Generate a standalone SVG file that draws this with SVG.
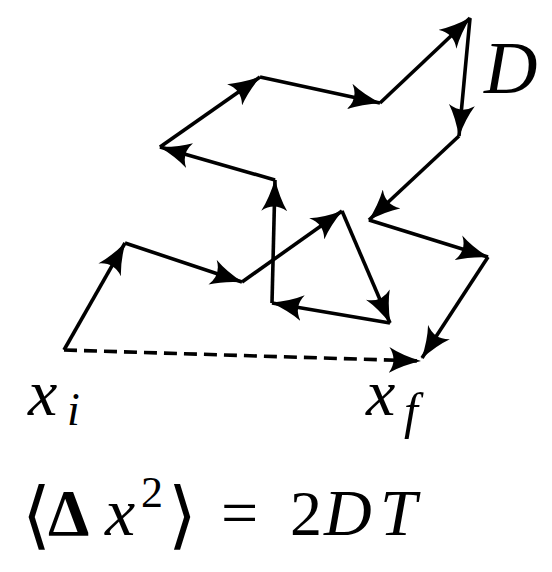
<svg xmlns="http://www.w3.org/2000/svg" width="552" height="572" viewBox="0 0 552 572">
<style>
.s{stroke:#000;stroke-width:3.6;fill:none;marker-end:url(#ah)}
.d{stroke-dasharray:13 7}
text{font-family:'Liberation Serif','DejaVu Serif',serif;fill:#000}
.i{font-style:italic}
</style>
<defs>
<marker id="ah" markerUnits="userSpaceOnUse" viewBox="0 0 32 26" refX="31" refY="13" markerWidth="32" markerHeight="26" orient="auto">
<path d="M0,0 Q13,8 32,13 Q13,18 0,26 Q9,13 0,0 Z" fill="#000"/>
</marker>
</defs>
<rect width="552" height="572" fill="#fff"/>
<g id="connectors">
<line class="s" x1="64" y1="350" x2="125" y2="243"/>
<line class="s" x1="125" y1="243" x2="242" y2="282"/>
<line class="s" x1="242" y1="282" x2="342" y2="211"/>
<line class="s" x1="342" y1="211" x2="390" y2="323"/>
<line class="s" x1="390" y1="323" x2="272" y2="303"/>
<line class="s" x1="272" y1="303" x2="275" y2="180"/>
<line class="s" x1="275" y1="180" x2="160" y2="147"/>
<line class="s" x1="160" y1="147" x2="260" y2="77"/>
<line class="s" x1="260" y1="77" x2="380" y2="103"/>
<line class="s" x1="380" y1="103" x2="470" y2="18"/>
<line class="s" x1="470" y1="18" x2="459" y2="136"/>
<line class="s" x1="459" y1="136" x2="369" y2="220"/>
<line class="s" x1="369" y1="220" x2="488" y2="257"/>
<line class="s" x1="488" y1="257" x2="422" y2="358"/>
<line class="s d" x1="64" y1="350" x2="420" y2="361"/>
</g>
<g id="label-D"><text class="i" x="484" y="93" font-size="74">D</text></g>
<g id="label-xi"><text class="i" x="28" y="415" font-size="66">x</text><text class="i" x="67" y="425" font-size="46">i</text></g>
<g id="label-xf"><text class="i" x="366" y="415" font-size="66">x</text><text class="i" x="404" y="428" font-size="50">f</text></g>
<g id="formula">
<text x="22" y="540" font-size="74">⟨</text>
<text x="48" y="535" font-size="66" font-weight="bold">Δ</text>
<text class="i" x="105" y="535" font-size="68">x</text>
<text x="141" y="507" font-size="44">2</text>
<text x="168" y="540" font-size="74">⟩</text>
<text x="221" y="535" font-size="66">=</text>
<text x="290" y="535" font-size="64">2</text>
<text class="i" x="324" y="535" font-size="66">D</text>
<text class="i" x="380" y="535" font-size="66">T</text>
</g>
</svg>
